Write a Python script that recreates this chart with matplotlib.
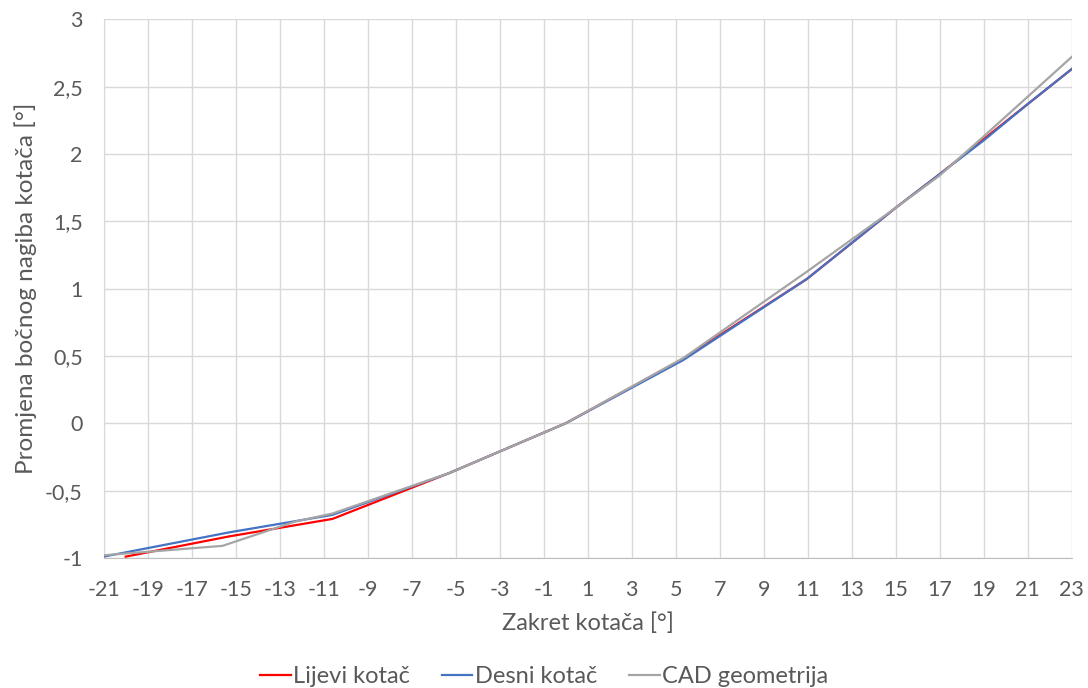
import matplotlib
matplotlib.use("Agg")
import matplotlib.pyplot as plt
from matplotlib.ticker import FuncFormatter, MultipleLocator

plt.rcParams['font.family'] = ['Lato', 'DejaVu Sans']
plt.rcParams['axes.unicode_minus'] = False

# Zakret kotača [°] vs promjena bočnog nagiba [°]
lijevi_x = [-20, -15.3, -10.6, -5.3, 0, 5.35, 10.95, 15, 17, 19, 21, 23]
lijevi_y = [-0.99, -0.84, -0.71, -0.37, 0, 0.48, 1.07, 1.60, 1.85, 2.11, 2.37, 2.63]

desni_x = [-21, -15.3, -10.6, -5.3, 0, 5.35, 10.95, 15, 17, 19, 21, 23]
desni_y = [-0.99, -0.81, -0.68, -0.37, 0, 0.47, 1.07, 1.60, 1.85, 2.10, 2.37, 2.63]

cad_x = [-21, -15.6, -12.3, -10.6, -5.3, 0, 5.35, 11, 15, 17, 19, 23]
cad_y = [-0.98, -0.91, -0.73, -0.67, -0.37, 0, 0.485, 1.13, 1.60, 1.84, 2.13, 2.72]

x_ticks = list(range(-21, 24, 2))

text_col = '#595959'
grid_col = '#d9d9d9'

fig = plt.figure(figsize=(10.88, 6.88), dpi=100)
ax = fig.add_axes([0.0953, 0.189, 0.8897, 0.783])

ax.plot(lijevi_x, lijevi_y, color='#ff0000', lw=1.6, label='Lijevi kotač', zorder=3)
ax.plot(desni_x, desni_y, color='#4472c4', lw=1.6, label='Desni kotač', zorder=4)
ax.plot(cad_x, cad_y, color='#a5a5a5', lw=1.6, label='CAD geometrija', zorder=5)

ax.set_xlim(-21, 23)
ax.set_ylim(-1, 3)
ax.set_xticks(x_ticks)
ax.yaxis.set_major_locator(MultipleLocator(0.5))
ax.yaxis.set_major_formatter(FuncFormatter(lambda v, p: f'{v:g}'.replace('.', ',')))

ax.grid(True, color=grid_col, lw=1)
ax.set_axisbelow(True)
for side in ['top', 'right']:
    ax.spines[side].set_visible(False)
ax.spines['left'].set_color(grid_col)
ax.spines['bottom'].set_color('#bfbfbf')

ax.tick_params(axis='both', length=0, labelsize=15.5, colors=text_col)
ax.tick_params(axis='x', pad=16)
ax.tick_params(axis='y', pad=15)

ax.set_xlabel('Zakret kotača [°]', fontsize=17, color=text_col, labelpad=9)
ax.set_ylabel('Promjena bočnog nagiba kotača [°]', fontsize=17.5, color=text_col, labelpad=6)

fig.legend(loc='lower center', bbox_to_anchor=(0.5, -0.03), ncol=3, frameon=False,
           fontsize=17, handlelength=1.3, handletextpad=0.1, columnspacing=1.35,
           labelcolor=text_col)

fig.savefig('out.png', dpi=100)
